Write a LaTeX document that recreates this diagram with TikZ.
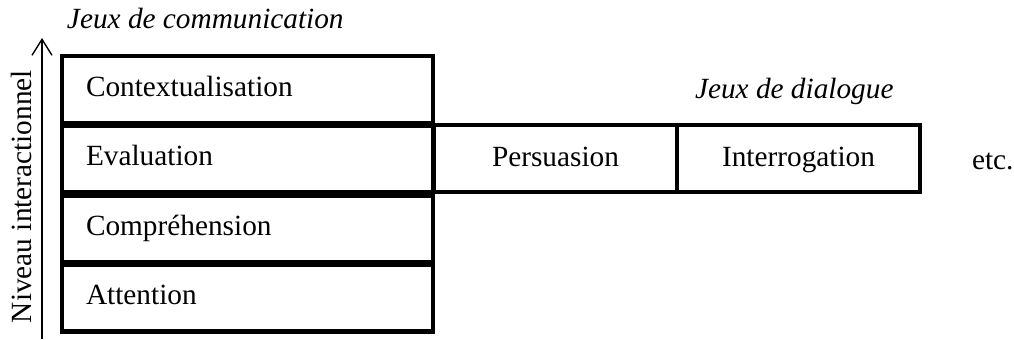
\documentclass[tikz,border=0pt]{standalone}
\usepackage{fontspec}
\setmainfont{Liberation Serif}
\usetikzlibrary{arrows.meta}
\begin{document}
\begin{tikzpicture}[x=0.5pt,y=-0.5pt,
  every node/.style={font=\fontsize{14.65pt}{17pt}\selectfont, inner sep=0pt, outer sep=0pt},
  lbox/.style={draw, line width=2.4pt, minimum width=185.5pt, minimum height=33.5pt,
    inner xsep=12pt, text width=161.5pt, align=left, text height=0.9em, text depth=0.25em},
  rbox/.style={draw, line width=2.4pt, minimum width=121.5pt, minimum height=33.5pt,
    align=center, text height=1.03em, text depth=0.25em},
  lbl/.style={anchor=base west},
  ital/.style={lbl, font=\fontsize{14.65pt}{17pt}\selectfont\itshape}]
\useasboundingbox (0,0) rectangle (1014,339);
\node[lbox] (ctx) at (247.5,89.5) {Contextualisation};
\node[lbox] (eval) at (247.5,159) {Evaluation};
\node[lbox] (comp) at (247.5,229) {Compréhension};
\node[lbox] (att) at (247.5,298) {Attention};
\node[rbox] (pers) at (555.5,158.5) {Persuasion};
\node[rbox] (inter) at (798.5,158.5) {Interrogation};
\node[lbl] (etc) at (972,169) {etc.};
\node[ital] (jcom) at (67,28) {Jeux de communication};
\node[ital] (jdia) at (695,98) {Jeux de dialogue};
\node[lbl, rotate=90] (niv) at (32,323) {Niveau interactionnel};
\coordinate (abot) at (42,339);
\coordinate (atop) at (42,38);
\draw[line width=0.7pt, -{Straight Barb[length=8pt,width=10pt,line width=0.7pt]}] (abot) -- (atop);
\end{tikzpicture}
\end{document}
